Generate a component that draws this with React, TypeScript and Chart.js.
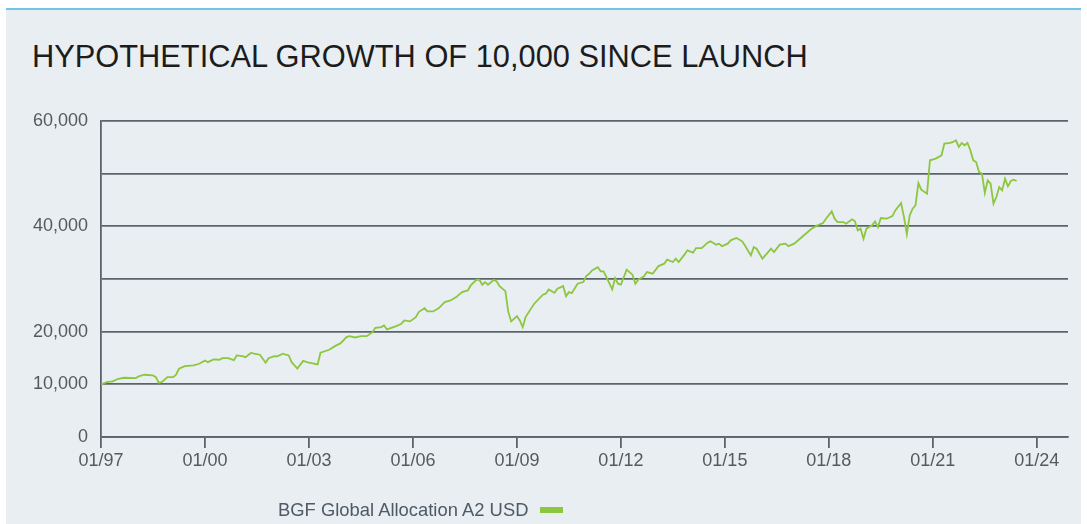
import React, { useEffect, useRef } from "react";
import { Chart, registerables } from "chart.js";

Chart.register(...registerables);

const TITLE = "HYPOTHETICAL GROWTH OF 10,000 SINCE LAUNCH";
const SERIES_NAME = "BGF Global Allocation A2 USD";

// Month-end dates (YYYY-MM); "1996-12" = launch (start of 01/97)
const monthEnds = [
  "1996-12", "1997-02", "1997-04", "1997-06", "1997-08", "1997-12", "1998-01", "1998-03", "1998-06", "1998-07",
  "1998-08", "1998-09", "1998-11", "1999-01", "1999-02", "1999-03", "1999-05", "1999-08", "1999-10", "1999-12",
  "2000-01", "2000-03", "2000-05", "2000-06", "2000-08", "2000-10", "2000-11", "2001-01", "2001-02", "2001-04",
  "2001-05", "2001-07", "2001-08", "2001-09", "2001-10", "2001-12", "2002-01", "2002-03", "2002-04", "2002-05",
  "2002-06", "2002-08", "2002-10", "2002-12", "2003-03", "2003-04", "2003-07", "2003-09", "2003-11", "2004-01",
  "2004-02", "2004-04", "2004-06", "2004-08", "2004-10", "2004-11", "2005-01", "2005-02", "2005-03", "2005-06",
  "2005-08", "2005-09", "2005-11", "2006-01", "2006-02", "2006-04", "2006-05", "2006-07", "2006-09", "2006-11",
  "2007-01", "2007-03", "2007-05", "2007-07", "2007-08", "2007-10", "2007-11", "2007-12", "2008-01", "2008-02",
  "2008-04", "2008-05", "2008-06", "2008-08", "2008-09", "2008-10", "2008-12", "2009-01", "2009-02", "2009-03",
  "2009-05", "2009-06", "2009-09", "2009-10", "2009-11", "2010-01", "2010-02", "2010-04", "2010-05", "2010-06",
  "2010-07", "2010-09", "2010-11", "2010-12", "2011-01", "2011-02", "2011-04", "2011-05", "2011-06", "2011-07",
  "2011-09", "2011-10", "2011-11", "2011-12", "2012-02", "2012-03", "2012-04", "2012-05", "2012-06", "2012-08",
  "2012-09", "2012-11", "2013-01", "2013-03", "2013-04", "2013-06", "2013-07", "2013-08", "2013-10", "2013-11",
  "2014-01", "2014-02", "2014-04", "2014-06", "2014-07", "2014-09", "2014-10", "2014-11", "2015-01", "2015-02",
  "2015-04", "2015-06", "2015-07", "2015-09", "2015-10", "2015-11", "2016-01", "2016-02", "2016-04", "2016-05",
  "2016-07", "2016-09", "2016-10", "2016-12", "2017-02", "2017-04", "2017-06", "2017-08", "2017-10", "2017-11",
  "2018-01", "2018-02", "2018-03", "2018-05", "2018-06", "2018-08", "2018-09", "2018-10", "2018-11", "2018-12",
  "2019-01", "2019-03", "2019-04", "2019-05", "2019-06", "2019-08", "2019-10", "2019-11", "2020-01", "2020-02",
  "2020-03", "2020-04", "2020-05", "2020-06", "2020-07", "2020-08", "2020-10", "2020-11", "2021-01", "2021-03",
  "2021-04", "2021-06", "2021-07", "2021-08", "2021-09", "2021-10", "2021-11", "2021-12", "2022-01", "2022-02",
  "2022-03", "2022-04", "2022-05", "2022-06", "2022-07", "2022-08", "2022-09", "2022-10", "2022-11", "2022-12",
  "2023-01", "2023-02", "2023-03", "2023-04", "2023-05",
];

const growth = [
  10000, 10400, 10550, 11060, 11250, 11170, 11500, 11820, 11690, 11370,
  10300, 10410, 11360, 11360, 11820, 12960, 13450, 13590, 13910, 14540,
  14210, 14730, 14670, 14970, 14970, 14590, 15490, 15350, 15160, 16000,
  15810, 15620, 14860, 14100, 14970, 15350, 15300, 15810, 15620, 15490,
  14210, 13000, 14450, 14100, 13780, 16000, 16570, 17250, 17820, 18960,
  19150, 18900, 19150, 19150, 19910, 20740, 20860, 21180, 20420, 21000,
  21510, 22130, 21950, 22760, 23710, 24470, 23840, 23840, 24470, 25610,
  25930, 26560, 27510, 27830, 28780, 29860, 29860, 28910, 29410, 28910,
  29860, 29540, 28640, 27700, 23800, 21950, 22950, 22130, 20860, 22760,
  24470, 25310, 27020, 27210, 28030, 27400, 28160, 28650, 26750, 27510,
  27320, 29110, 29410, 30550, 31000, 31640, 32260, 31450, 31450, 30360,
  28030, 30170, 29110, 28920, 31770, 31310, 30820, 29110, 29870, 30500,
  31310, 31000, 32450, 32910, 33670, 33220, 33860, 33220, 34620, 35440,
  35000, 35870, 35870, 36900, 37150, 36520, 36710, 36250, 36710, 37340,
  37780, 37150, 36300, 34490, 36060, 35750, 33860, 34490, 35750, 35120,
  36520, 36710, 36250, 36710, 37650, 38600, 39550, 40180, 40620, 41450,
  42840, 41450, 40810, 40810, 40500, 41320, 41000, 39230, 39550, 37650,
  39550, 40180, 40940, 39860, 41570, 41450, 41950, 43030, 44400, 41800,
  38500, 42080, 43350, 43980, 48220, 46960, 46200, 52540, 52860, 53480,
  55700, 55830, 56020, 56340, 55070, 55830, 55390, 55830, 54440, 52540,
  52220, 50310, 50000, 46330, 48730, 48100, 44300, 45560, 47460, 46830,
  49050, 47590, 48600, 48860, 48600,
];

const xTickYears = [1997, 2000, 2003, 2006, 2009, 2012, 2015, 2018, 2021, 2024];
const yGridValues = [0, 10000, 20000, 30000, 40000, 50000, 60000];
const yLabelledValues = [0, 10000, 20000, 40000, 60000];

const FONT = "'Liberation Sans', Arial, Helvetica, sans-serif";
const GRID = "#5b636c";
const LINE = "#8dc63f";
const TICK_TEXT = "#555a5e";

function monthEndToYear(s: string): number {
  const [y, m] = s.split("-").map(Number);
  return y + m / 12;
}

export default function App() {
  const ref = useRef<HTMLCanvasElement | null>(null);

  useEffect(() => {
    if (!ref.current) return;
    const chart = new Chart(ref.current, {
      type: "line",
      data: {
        datasets: [
          {
            label: SERIES_NAME,
            data: monthEnds.map((d, i) => ({ x: monthEndToYear(d), y: growth[i] })),
            borderColor: LINE,
            backgroundColor: LINE,
            borderWidth: 1.8,
            pointRadius: 0,
            tension: 0,
            fill: false,
          },
        ],
      },
      options: {
        responsive: false,
        maintainAspectRatio: false,
        animation: false,
        layout: { padding: { left: 0, right: 19, top: 121, bottom: 43 } },
        plugins: {
          legend: { display: false },
          title: { display: false },
          tooltip: { enabled: false },
        },
        scales: {
          x: {
            type: "linear",
            min: 1997,
            max: 2024.9,
            afterBuildTicks: (s: any) => {
              s.ticks = xTickYears.map((v) => ({ value: v }));
            },
            afterFit: (s: any) => {
              s.height = 44;
            },
            grid: {
              drawOnChartArea: false,
              drawTicks: true,
              tickLength: 11,
              color: GRID,
              lineWidth: 1.8,
            },
            border: { display: true, color: GRID, width: 1.8 },
            ticks: {
              autoSkip: false,
              maxRotation: 0,
              padding: 2,
              color: TICK_TEXT,
              font: { family: FONT, size: 18 },
              callback: (v: any) => "01/" + String(Number(v) % 100).padStart(2, "0"),
            },
          },
          y: {
            min: 0,
            max: 60000,
            afterBuildTicks: (s: any) => {
              s.ticks = yGridValues.map((v) => ({ value: v }));
            },
            afterFit: (s: any) => {
              s.width = 101;
            },
            grid: { drawTicks: false, color: GRID, lineWidth: 1.8 },
            border: { display: true, color: GRID, width: 1.8 },
            ticks: {
              padding: 13,
              color: TICK_TEXT,
              font: { family: FONT, size: 18 },
              callback: (v: any) =>
                yLabelledValues.includes(Number(v)) ? Number(v).toLocaleString("en-US") : "",
            },
          },
        },
      },
    });
    return () => chart.destroy();
  }, []);

  return (
    <div style={{ position: "absolute", left: 0, top: 0, width: 1087, height: 524, background: "#ffffff", overflow: "hidden" }}>
      <div
        style={{
          position: "absolute",
          left: 6,
          top: 8,
          width: 1075,
          height: 516,
          background: "#e8eef1",
          borderTop: "2px solid #74c2e8",
        }}
      />
      <div
        style={{
          position: "absolute",
          left: 32,
          top: 42,
          fontFamily: FONT,
          fontSize: 30.8,
          lineHeight: "30px",
          color: "#1c1c1c",
          whiteSpace: "nowrap",
        }}
      >
        {TITLE}
      </div>
      <canvas ref={ref} width={1087} height={524} style={{ position: "absolute", left: 0, top: 0, width: 1087, height: 524 }} />
      <div
        style={{
          position: "absolute",
          left: 278,
          top: 500,
          fontFamily: FONT,
          fontSize: 18.4,
          lineHeight: "20px",
          color: "#4e5a66",
          whiteSpace: "nowrap",
        }}
      >
        {SERIES_NAME}
      </div>
      <div style={{ position: "absolute", left: 540, top: 507, width: 23, height: 6, background: LINE }} />
    </div>
  );
}
